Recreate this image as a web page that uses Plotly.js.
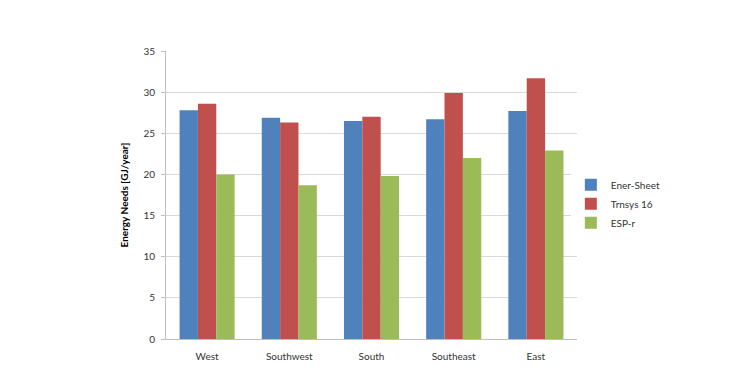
<!DOCTYPE html>
<html><head><meta charset="utf-8">
<script src="https://cdn.plot.ly/plotly-3.0.1.min.js"></script>
<style>html,body{margin:0;padding:0;background:#fff}#chart{width:744px;height:384px}</style>
</head><body><div id="chart"></div>
<script>
var categories = ["West", "Southwest", "South", "Southeast", "East"];
var enerSheet = [27.8, 26.9, 26.5, 26.7, 27.7];
var trnsys16 = [28.6, 26.3, 27.0, 29.9, 31.7];
var espR = [20.0, 18.7, 19.8, 22.0, 22.9];
var yTicks = [0, 5, 10, 15, 20, 25, 30, 35];

var font = {family: "Lato, 'Open Sans', sans-serif", size: 10, color: "#333"};
var traces = [
  {type: "bar", name: "Ener-Sheet", x: categories, y: enerSheet, marker: {color: "#4F81BD"}},
  {type: "bar", name: "Trnsys 16", x: categories, y: trnsys16, marker: {color: "#C0504D"}},
  {type: "bar", name: "ESP-r", x: categories, y: espR, marker: {color: "#9BBB59"}}
];
var layout = {
  width: 744, height: 384,
  margin: {l: 166, r: 167, t: 51, b: 45},
  paper_bgcolor: "#fff", plot_bgcolor: "#fff",
  font: font,
  barmode: "group", bargap: 0.33, bargroupgap: 0,
  showlegend: true,
  legend: {x: 0.985, xanchor: "left", y: 0.47, yanchor: "middle", font: {family: font.family, size: 10, color: "#333"}, itemwidth: 30, tracegroupgap: 0},
  xaxis: {showgrid: false, showline: true, linecolor: "#BFBFBF", ticks: "", tickfont: font, ticklabelstandoff: 8, fixedrange: true},
  yaxis: {range: [0, 35], tickvals: yTicks, showgrid: true, gridcolor: "#D9D9D9", gridwidth: 1,
          showline: true, linecolor: "#BFBFBF", ticks: "outside", ticklen: 4, tickcolor: "#BFBFBF",
          zeroline: false, tickfont: font, ticklabelstandoff: 4,
          title: {text: "Energy Needs [GJ/year]", font: {family: font.family, size: 10, color: "#000", weight: "bold"}, standoff: 12}}
};
Plotly.newPlot("chart", traces, layout, {displayModeBar: false, staticPlot: true});
</script></body></html>
